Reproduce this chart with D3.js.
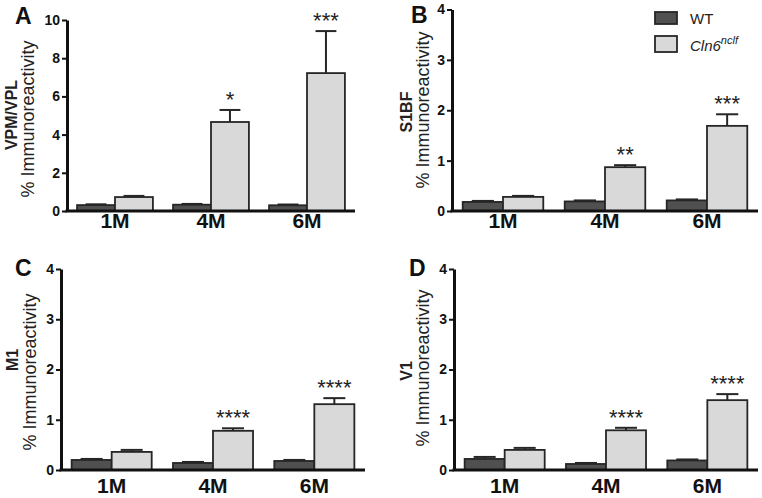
<!DOCTYPE html>
<html>
<head>
<meta charset="utf-8">
<script src="https://cdn.jsdelivr.net/npm/d3@7"></script>
<style>
  html, body { margin: 0; padding: 0; background: #fff; }
  svg { display: block; font-family: "Liberation Sans", Arial, Helvetica, sans-serif; }
</style>
</head>
<body>
<svg id="chart" width="762" height="498"></svg>
<script>
// ---------------- DATA ----------------
const categories = ["1M", "4M", "6M"];
const seriesNames = ["WT", "Cln6"];
const panelLetters = ["A", "B", "C", "D"];
const regionLabels = ["VPM/VPL", "S1BF", "M1", "V1"];
const yLabel = "% Immunoreactivity";
const yMax = [10, 4, 4, 4];
const yTicksA = [0, 2, 4, 6, 8, 10];
const yTicksBCD = [0, 1, 2, 3, 4];

// WT means and SEM per panel (A, B, C, D) across 1M, 4M, 6M
const wtMean = [
  [0.31, 0.33, 0.30],
  [0.18, 0.19, 0.21],
  [0.20, 0.14, 0.18],
  [0.22, 0.12, 0.19]
];
const wtErr = [
  [0.04, 0.04, 0.04],
  [0.02, 0.02, 0.02],
  [0.02, 0.02, 0.02],
  [0.04, 0.02, 0.02]
];
// Cln6nclf means and SEM
const clnMean = [
  [0.73, 4.66, 7.22],
  [0.28, 0.87, 1.69],
  [0.36, 0.78, 1.31],
  [0.40, 0.79, 1.39]
];
const clnErr = [
  [0.06, 0.63, 2.20],
  [0.02, 0.04, 0.23],
  [0.04, 0.05, 0.12],
  [0.04, 0.05, 0.12]
];
const stars = [
  ["", "*", "***"],
  ["", "**", "***"],
  ["", "****", "****"],
  ["", "****", "****"]
];

// ---------------- LAYOUT ----------------
const layout = [
  { axisX: 67,  endX: 355, y0: 211, yTop: 20,  letterX: 15,  letterY: 24,  labelY: 228, l1x: 17,  l1y: 115, l2x: 34,  l2y: 119 },
  { axisX: 452, endX: 758, y0: 211, yTop: 9.5, letterX: 411, letterY: 23,  labelY: 228, l1x: 412, l1y: 112, l2x: 429, l2y: 110 },
  { axisX: 61,  endX: 365, y0: 470, yTop: 269, letterX: 15,  letterY: 276, labelY: 493, l1x: 18,  l1y: 360, l2x: 36,  l2y: 372 },
  { axisX: 454, endX: 758, y0: 470, yTop: 269, letterX: 409, letterY: 276, labelY: 493, l1x: 412, l1y: 371, l2x: 429, l2y: 368 }
];
const colors = { WT: "#505050", Cln6: "#d9d9d9" };
const strokeCol = "#262626";

const svg = d3.select("#chart");

panelLetters.forEach((letter, pi) => {
  const L = layout[pi];
  const g = svg.append("g");

  const y = d3.scaleLinear().domain([0, yMax[pi]]).range([L.y0, L.yTop]);
  const x0 = d3.scaleBand().domain(categories).range([L.axisX, L.endX])
    .paddingInner(0.21).paddingOuter(0.105);
  const x1 = d3.scaleBand().domain(seriesNames).range([0, x0.bandwidth()]).padding(0);

  const rows = categories.map((c, i) => ({
    cat: c,
    vals: [
      { s: "WT", v: wtMean[pi][i], e: wtErr[pi][i] },
      { s: "Cln6", v: clnMean[pi][i], e: clnErr[pi][i] }
    ],
    star: stars[pi][i]
  }));

  const grp = g.selectAll("g.grp").data(rows).join("g")
    .attr("class", "grp")
    .attr("transform", d => `translate(${x0(d.cat)},0)`);

  const bw = x1.bandwidth();
  const capW = bw * 0.55;

  // error bars (up only)
  grp.selectAll("line.err").data(d => d.vals).join("line")
    .attr("x1", d => x1(d.s) + bw / 2).attr("x2", d => x1(d.s) + bw / 2)
    .attr("y1", d => y(d.v)).attr("y2", d => y(d.v + d.e))
    .attr("stroke", strokeCol).attr("stroke-width", 2);
  grp.selectAll("line.cap").data(d => d.vals).join("line")
    .attr("x1", d => x1(d.s) + bw / 2 - capW / 2).attr("x2", d => x1(d.s) + bw / 2 + capW / 2)
    .attr("y1", d => y(d.v + d.e)).attr("y2", d => y(d.v + d.e))
    .attr("stroke", strokeCol).attr("stroke-width", 2);

  // bars
  grp.selectAll("rect").data(d => d.vals).join("rect")
    .attr("x", d => x1(d.s))
    .attr("y", d => y(d.v))
    .attr("width", bw)
    .attr("height", d => y(0) - y(d.v))
    .attr("fill", d => colors[d.s])
    .attr("stroke", strokeCol).attr("stroke-width", 1.8);

  // significance stars
  grp.append("text")
    .attr("x", x1("Cln6") + bw / 2)
    .attr("y", d => y(d.vals[1].v + d.vals[1].e) - 3)
    .attr("text-anchor", "middle")
    .attr("font-size", 22)
    .attr("fill", "#222")
    .text(d => d.star);

  // y axis
  const yAxis = d3.axisLeft(y)
    .tickValues(pi === 0 ? yTicksA : yTicksBCD)
    .tickFormat(d3.format("d"))
    .tickSize(5).tickPadding(2).tickSizeOuter(0);
  const ya = g.append("g").attr("transform", `translate(${L.axisX},0)`).call(yAxis);
  ya.select(".domain").attr("stroke", "#111").attr("stroke-width", 3);
  ya.selectAll(".tick line").attr("stroke", "#111").attr("stroke-width", 2);
  ya.selectAll(".tick text")
    .attr("font-family", "'Liberation Sans', Arial, sans-serif")
    .attr("font-size", 14).attr("font-weight", "bold").attr("fill", "#111");

  // x axis baseline
  const xAxis = d3.axisBottom(x0).tickSize(0).tickPadding(0).tickSizeOuter(0);
  const xa = g.append("g").attr("transform", `translate(0,${L.y0})`).call(xAxis);
  xa.select(".domain").attr("stroke", "#111").attr("stroke-width", 3)
    .attr("d", `M${L.axisX - 1.5},0H${L.endX}`);
  xa.selectAll(".tick text")
    .attr("font-family", "'Liberation Sans', Arial, sans-serif")
    .attr("font-size", 21).attr("font-weight", "bold").attr("fill", "#111")
    .attr("dy", null)
    .attr("y", L.labelY - L.y0);

  // panel letter
  g.append("text").attr("x", L.letterX).attr("y", L.letterY)
    .attr("font-size", 23).attr("font-weight", "bold").attr("fill", "#111")
    .text(letter);

  // y labels
  g.append("text")
    .attr("transform", `translate(${L.l1x},${L.l1y}) rotate(-90)`)
    .attr("text-anchor", "middle")
    .attr("font-size", 16).attr("font-weight", "bold").attr("fill", "#222")
    .text(regionLabels[pi]);
  g.append("text")
    .attr("transform", `translate(${L.l2x},${L.l2y}) rotate(-90)`)
    .attr("text-anchor", "middle")
    .attr("font-size", 18).attr("fill", "#222")
    .text(yLabel);
});

// legend
const leg = svg.append("g");
leg.append("rect").attr("x", 655).attr("y", 12).attr("width", 22).attr("height", 12)
  .attr("fill", colors.WT).attr("stroke", strokeCol).attr("stroke-width", 1.8);
leg.append("rect").attr("x", 655).attr("y", 36).attr("width", 22).attr("height", 16)
  .attr("fill", colors.Cln6).attr("stroke", strokeCol).attr("stroke-width", 1.8);
leg.append("text").attr("x", 690).attr("y", 24).attr("font-size", 15).attr("fill", "#222").text("WT");
const t2 = leg.append("text").attr("x", 690).attr("y", 51).attr("font-size", 15)
  .attr("font-style", "italic").attr("fill", "#222");
t2.append("tspan").text("Cln6");
t2.append("tspan").attr("font-size", 11).attr("dy", -7).text("nclf");
</script>
</body>
</html>
